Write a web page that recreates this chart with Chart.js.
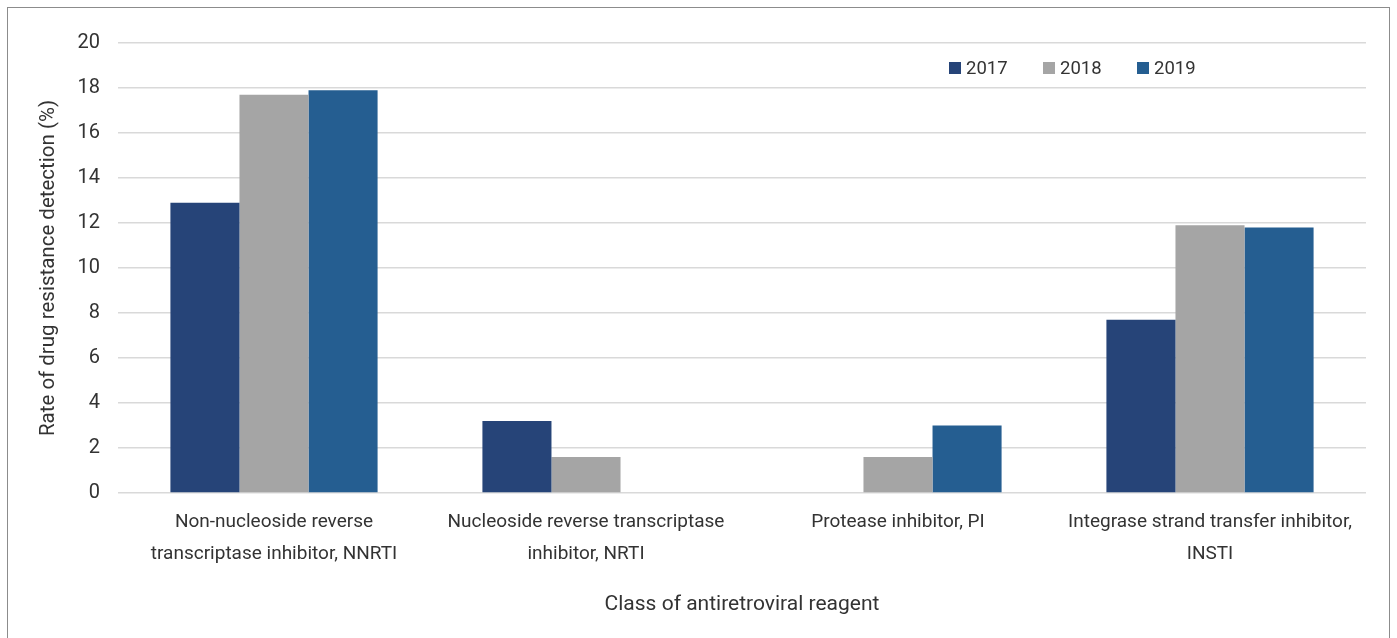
<!DOCTYPE html>
<html>
<head>
<meta charset="utf-8">
<script src="https://cdn.jsdelivr.net/npm/chart.js@4/dist/chart.umd.min.js"></script>
<style>
  html, body { margin: 0; padding: 0; background: #fff; }
  #wrap { position: relative; width: 1397px; height: 638px; overflow: hidden; }
  #frame { position: absolute; left: 7px; top: 7px; width: 1383px; height: 700px; border: 1px solid #8c8c8c; box-sizing: border-box; }
  #chart { position: absolute; left: 0; top: 0; }
</style>
</head>
<body>
<div id="wrap">
  <div id="frame"></div>
  <canvas id="chart" width="1397" height="638"></canvas>
</div>
<script>
// --- data ---
const categories = [
  ['Non-nucleoside reverse', 'transcriptase inhibitor, NNRTI'],
  ['Nucleoside reverse transcriptase', 'inhibitor, NRTI'],
  ['Protease inhibitor, PI'],
  ['Integrase strand transfer inhibitor,', 'INSTI']
];
const years = ['2017', '2018', '2019'];
const rate2017 = [12.9, 3.2, 0, 7.7];
const rate2018 = [17.7, 1.6, 1.6, 11.9];
const rate2019 = [17.9, 0, 3.0, 11.8];
const yTicks = [0, 2, 4, 6, 8, 10, 12, 14, 16, 18, 20];

const colors = ['#264478', '#a5a5a5', '#255e91'];
const textColor = '#333333';
const fontFamily = 'Roboto, "Noto Sans", sans-serif';

// legend drawn inside the plot, top right
const legendPlugin = {
  id: 'insideLegend',
  afterDraw(chart) {
    const ctx = chart.ctx;
    ctx.save();
    ctx.font = '18.5px ' + fontFamily;
    ctx.textBaseline = 'middle';
    ctx.textAlign = 'left';
    let x = 949;
    const y = 68;
    chart.data.datasets.forEach(ds => {
      ctx.fillStyle = ds.backgroundColor;
      ctx.fillRect(x, y - 6, 12, 12);
      ctx.fillStyle = textColor;
      ctx.fillText(ds.label, x + 17, y + 1);
      x += 94;
    });
    ctx.restore();
  }
};

new Chart(document.getElementById('chart'), {
  type: 'bar',
  data: {
    labels: categories,
    datasets: [
      { label: years[0], data: rate2017, backgroundColor: colors[0] },
      { label: years[1], data: rate2018, backgroundColor: colors[1] },
      { label: years[2], data: rate2019, backgroundColor: colors[2] }
    ]
  },
  options: {
    responsive: false,
    animation: false,
    devicePixelRatio: 1,
    layout: { padding: { left: 0, right: 31, top: 43, bottom: 0 } },
    datasets: { bar: { barPercentage: 1.0, categoryPercentage: 0.664 } },
    plugins: {
      legend: { display: false },
      tooltip: { enabled: false }
    },
    scales: {
      x: {
        grid: { display: false, drawTicks: false },
        border: { display: false },
        ticks: {
          color: textColor,
          padding: 13,
          maxRotation: 0,
          autoSkip: false,
          font: { family: fontFamily, size: 19, lineHeight: 32 / 19 }
        },
        title: {
          display: true,
          text: 'Class of antiretroviral reagent',
          color: textColor,
          font: { family: fontFamily, size: 21, lineHeight: 1.2 },
          padding: { top: 0, bottom: 21 }
        },
        afterFit(scale) { scale.height = 145; }
      },
      y: {
        min: 0,
        max: 20,
        afterBuildTicks(scale) { scale.ticks = yTicks.map(v => ({ value: v })); },
        grid: { color: '#d9d9d9', lineWidth: 1.5, drawTicks: false },
        border: { display: false },
        ticks: {
          color: textColor,
          padding: 18,
          font: { family: fontFamily, size: 20 }
        },
        title: {
          display: true,
          text: 'Rate of drug resistance detection (%)',
          color: textColor,
          font: { family: fontFamily, size: 20.5, lineHeight: 1.2 },
          padding: { top: 37, bottom: 0 }
        },
        afterFit(scale) { scale.width = 118; }
      }
    }
  },
  plugins: [legendPlugin]
});
</script>
</body>
</html>
